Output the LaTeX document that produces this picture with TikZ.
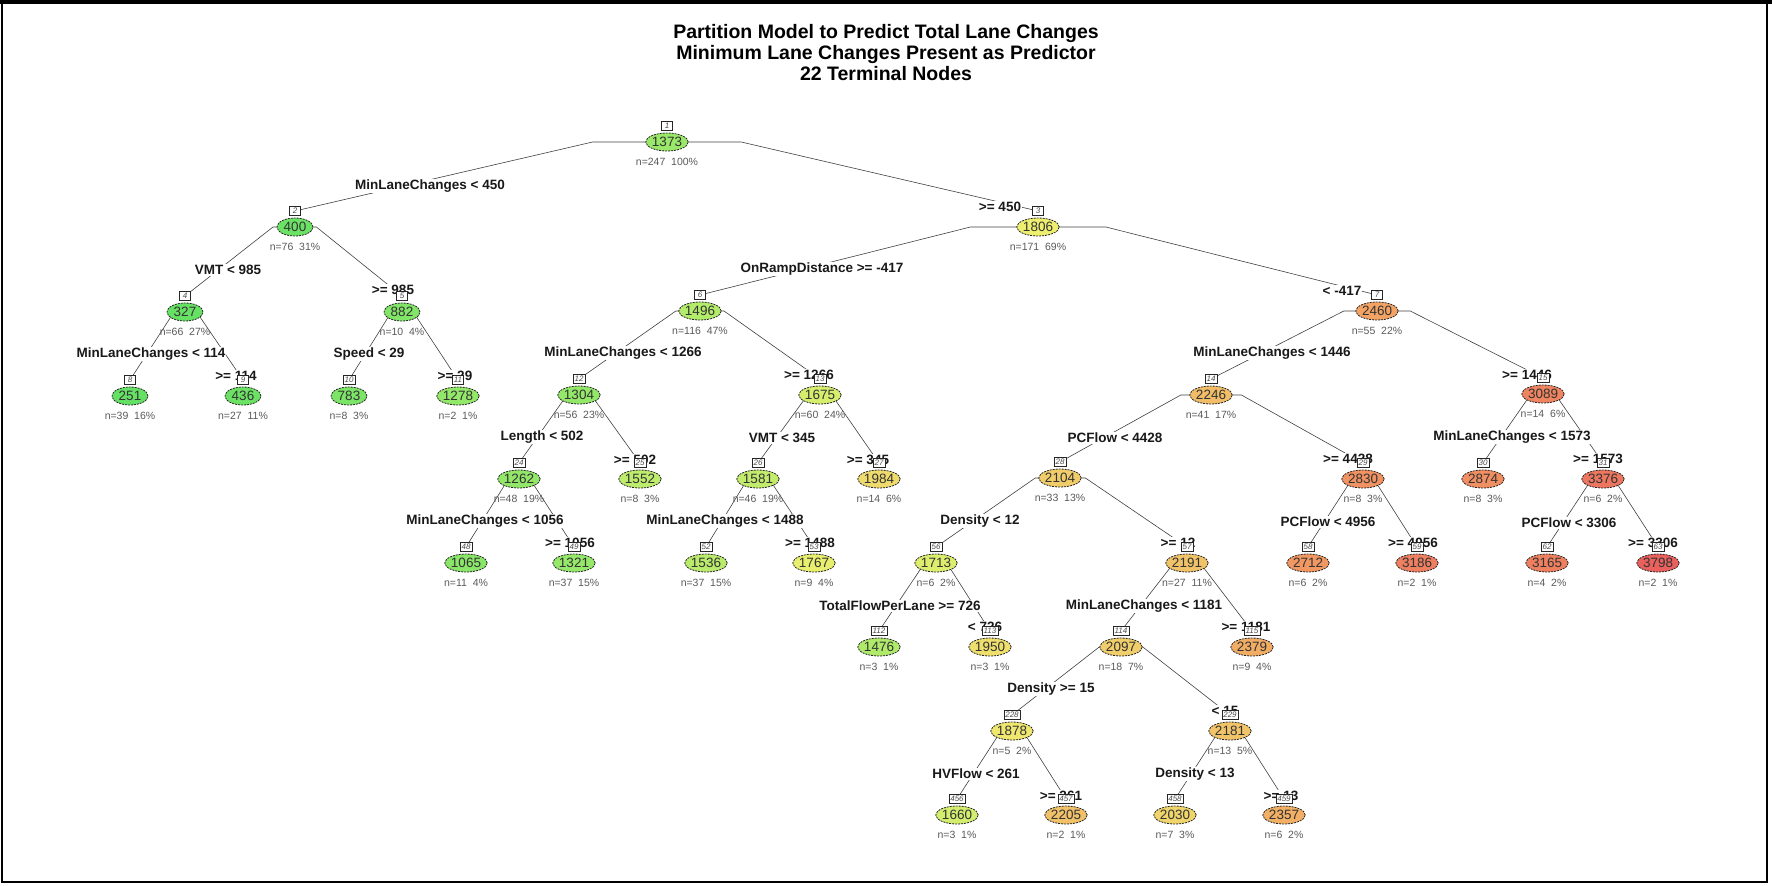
\documentclass[tikz,border=0pt]{standalone}
\usepackage{fontspec}
\setmainfont{Liberation Sans}
\usetikzlibrary{shapes.geometric, calc}
\pgfdeclarelayer{background}
\pgfsetlayers{background,main}
\definecolor{LeafGreenA}{RGB}{100,225,100}
\definecolor{LeafGreenB}{RGB}{150,232,105}
\definecolor{LeafYellow}{RGB}{238,240,112}
\definecolor{LeafOrange}{RGB}{243,165,100}
\definecolor{LeafRed}{RGB}{233,96,92}

\tikzset{
  leaf/.style={ellipse, draw=black!85, line width=0.8pt, dash pattern=on 2pt off 1pt,
    inner sep=0pt, minimum width=36pt, minimum height=18pt, text=black!80,
    font=\fontsize{13.5}{14}\selectfont},
  numbox/.style={rectangle, draw=black!85, line width=0.6pt, fill=white,
    inner xsep=1.5pt, inner ysep=1pt, minimum width=11pt, minimum height=9pt, text=black!70,
    font=\fontsize{8}{8}\selectfont\itshape},
  ntext/.style={text=black!65, inner sep=0pt, font=\fontsize{10.5}{11}\selectfont},
  split/.style={fill=white, inner sep=1pt, text=black!90,
    font=\bfseries\fontsize{13.5}{14}\selectfont},
  branch/.style={draw=black!75, line width=0.6pt,
    to path={let \p1=(\tikztostart), \p2=(\tikztotarget) in
      -- ({\x1+0.2*(\x2-\x1)},\y1) -- (\tikztotarget)}}
}

% id, x, y, fitted value, n, percent
\newcommand{\treenode}[6]{%
  \pgfmathsetmacro{\mixGG}{min(max((#4-250)/11,0),100)}%
  \pgfmathsetmacro{\mixGY}{min(max((#4-1350)/4.5,0),100)}%
  \pgfmathsetmacro{\mixYO}{min(max((#4-1800)/6.5,0),100)}%
  \pgfmathsetmacro{\mixOR}{min(max((#4-2450)/13.5,0),100)}%
  \colorlet{fillA}{LeafGreenB!\mixGG!LeafGreenA}%
  \colorlet{fillB}{LeafYellow!\mixGY!fillA}%
  \colorlet{fillC}{LeafOrange!\mixYO!fillB}%
  \colorlet{fillD}{LeafRed!\mixOR!fillC}%
  \node[leaf, fill=fillD] (n#1) at (#2,#3) {#4};
  \node[numbox] (b#1) at (#2,#3-16) {#1};
  \node[ntext] (t#1) at (#2,#3+20) {n=#5\ \ #6\%};
}

\begin{document}
\begin{tikzpicture}[x=1pt, y=-1pt]
\useasboundingbox (0,0) rectangle (1772,886);

\node[font=\bfseries\fontsize{19.5}{21}\selectfont, align=center] (title) at (886,53)
  {Partition Model to Predict Total Lane Changes\\Minimum Lane Changes Present as Predictor\\22 Terminal Nodes};

% split labels
\node[split] (s2) at (430,186) {MinLaneChanges < 450};
\node[split] (s3) at (1000,207) {>= 450};
\node[split] (s4) at (228,270) {VMT < 985};
\node[split] (s5) at (393,290) {>= 985};
\node[split] (s8) at (151,354) {MinLaneChanges < 114};
\node[split] (s9) at (236,376) {>= 114};
\node[split] (s10) at (369,354) {Speed < 29};
\node[split] (s11) at (455,376) {>= 29};
\node[split] (s6) at (822,269) {OnRampDistance >= -417};
\node[split] (s7) at (1342,291) {< -417};
\node[split] (s12) at (623,353) {MinLaneChanges < 1266};
\node[split] (s13) at (809,375) {>= 1266};
\node[split] (s24) at (542,437) {Length < 502};
\node[split] (s25) at (635,460) {>= 502};
\node[split] (s26) at (782,438) {VMT < 345};
\node[split] (s27) at (868,460) {>= 345};
\node[split] (s48) at (485,521) {MinLaneChanges < 1056};
\node[split] (s49) at (570,543) {>= 1056};
\node[split] (s52) at (725,521) {MinLaneChanges < 1488};
\node[split] (s53) at (810,543) {>= 1488};
\node[split] (s14) at (1272,353) {MinLaneChanges < 1446};
\node[split] (s15) at (1527,375) {>= 1446};
\node[split] (s28) at (1115,438) {PCFlow < 4428};
\node[split] (s29) at (1348,459) {>= 4428};
\node[split] (s30) at (1512,437) {MinLaneChanges < 1573};
\node[split] (s31) at (1598,459) {>= 1573};
\node[split] (s56) at (980,521) {Density < 12};
\node[split] (s57) at (1178,543) {>= 12};
\node[split] (s58) at (1328,522) {PCFlow < 4956};
\node[split] (s59) at (1413,543) {>= 4956};
\node[split] (s62) at (1569,523) {PCFlow < 3306};
\node[split] (s63) at (1653,543) {>= 3306};
\node[split] (s112) at (900,606) {TotalFlowPerLane >= 726};
\node[split] (s113) at (985,627) {< 726};
\node[split] (s114) at (1144,606) {MinLaneChanges < 1181};
\node[split] (s115) at (1246,627) {>= 1181};
\node[split] (s228) at (1051,689) {Density >= 15};
\node[split] (s229) at (1225,711) {< 15};
\node[split] (s456) at (976,774) {HVFlow < 261};
\node[split] (s457) at (1061,796) {>= 261};
\node[split] (s458) at (1195,774) {Density < 13};
\node[split] (s459) at (1281,796) {>= 13};

% tree nodes
\treenode{1}{667}{142}{1373}{247}{100}
\treenode{2}{295}{227}{400}{76}{31}
\treenode{3}{1038}{227}{1806}{171}{69}
\treenode{4}{185}{312}{327}{66}{27}
\treenode{5}{402}{312}{882}{10}{4}
\treenode{6}{700}{311}{1496}{116}{47}
\treenode{7}{1377}{311}{2460}{55}{22}
\treenode{8}{130}{396}{251}{39}{16}
\treenode{9}{243}{396}{436}{27}{11}
\treenode{10}{349}{396}{783}{8}{3}
\treenode{11}{458}{396}{1278}{2}{1}
\treenode{12}{579}{395}{1304}{56}{23}
\treenode{13}{820}{395}{1675}{60}{24}
\treenode{14}{1211}{395}{2246}{41}{17}
\treenode{15}{1543}{394}{3089}{14}{6}
\treenode{24}{519}{479}{1262}{48}{19}
\treenode{25}{640}{479}{1552}{8}{3}
\treenode{26}{758}{479}{1581}{46}{19}
\treenode{27}{879}{479}{1984}{14}{6}
\treenode{28}{1060}{478}{2104}{33}{13}
\treenode{29}{1363}{479}{2830}{8}{3}
\treenode{30}{1483}{479}{2874}{8}{3}
\treenode{31}{1603}{479}{3376}{6}{2}
\treenode{48}{466}{563}{1065}{11}{4}
\treenode{49}{574}{563}{1321}{37}{15}
\treenode{52}{706}{563}{1536}{37}{15}
\treenode{53}{814}{563}{1767}{9}{4}
\treenode{56}{936}{563}{1713}{6}{2}
\treenode{57}{1187}{563}{2191}{27}{11}
\treenode{58}{1308}{563}{2712}{6}{2}
\treenode{59}{1417}{563}{3186}{2}{1}
\treenode{62}{1547}{563}{3165}{4}{2}
\treenode{63}{1658}{563}{3798}{2}{1}
\treenode{112}{879}{647}{1476}{3}{1}
\treenode{113}{990}{647}{1950}{3}{1}
\treenode{114}{1121}{647}{2097}{18}{7}
\treenode{115}{1252}{647}{2379}{9}{4}
\treenode{228}{1012}{731}{1878}{5}{2}
\treenode{229}{1230}{731}{2181}{13}{5}
\treenode{456}{957}{815}{1660}{3}{1}
\treenode{457}{1066}{815}{2205}{2}{1}
\treenode{458}{1175}{815}{2030}{7}{3}
\treenode{459}{1284}{815}{2357}{6}{2}

% branches
\begin{pgfonlayer}{background}
\foreach \p/\c in {1/2, 1/3, 2/4, 2/5, 4/8, 4/9, 5/10, 5/11, 3/6, 3/7,
    6/12, 6/13, 12/24, 12/25, 24/48, 24/49, 13/26, 13/27, 26/52, 26/53,
    7/14, 7/15, 14/28, 14/29, 28/56, 28/57, 56/112, 56/113, 57/114, 57/115,
    114/228, 114/229, 228/456, 228/457, 229/458, 229/459,
    29/58, 29/59, 15/30, 15/31, 31/62, 31/63}
  \draw[branch] (n\p.center) to (b\c.center);
\end{pgfonlayer}

% frame
\draw[line width=4pt] (0,2) -- (1772,2);
\draw[line width=1.5pt] (2,0) -- (2,882) -- (1767,882) -- (1767,0);
\end{tikzpicture}
\end{document}
